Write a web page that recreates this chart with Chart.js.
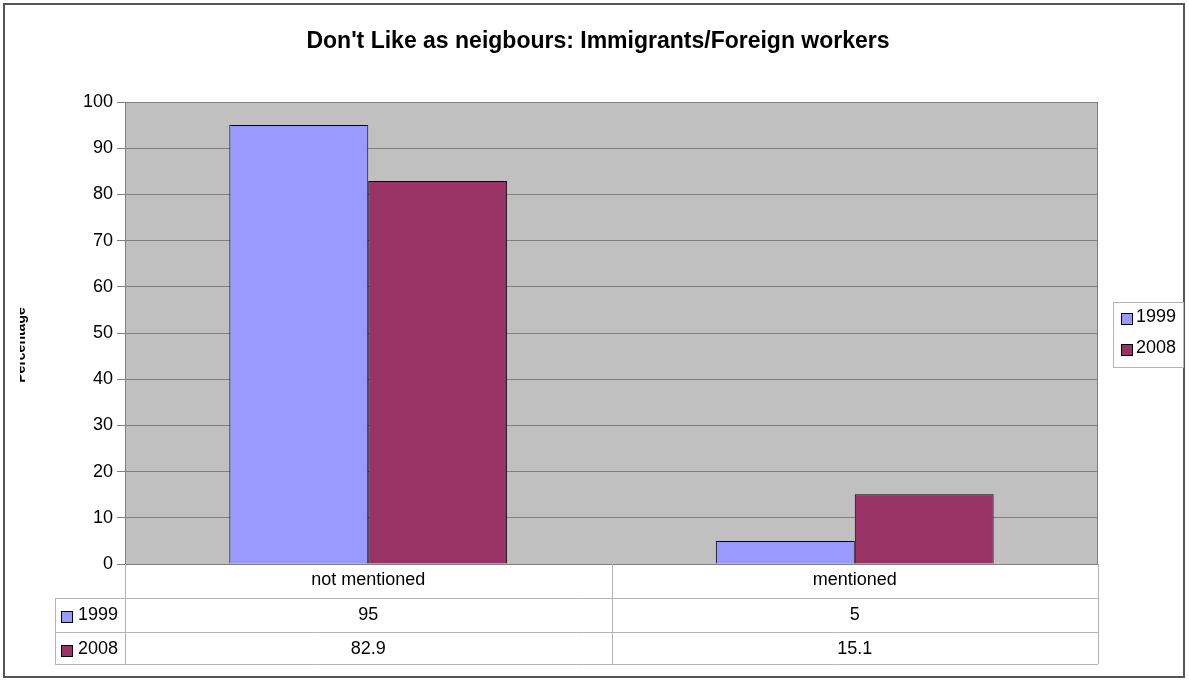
<!DOCTYPE html>
<html>
<head>
<meta charset="utf-8">
<script src="https://cdn.jsdelivr.net/npm/chart.js@4"></script>
<style>
  body { margin: 0; background: #fff; }
  #wrap { width: 1189px; height: 680px; }
</style>
</head>
<body>
<div id="wrap"><canvas id="chart1" width="1189" height="680"></canvas></div>
<script>
const categories = ['not mentioned', 'mentioned'];
const seriesNames = ['1999', '2008'];
const values1999 = [95, 5];
const values2008 = [82.9, 15.1];
const seriesColors = ['#9999ff', '#993366'];
const yTicks = [0, 10, 20, 30, 40, 50, 60, 70, 80, 90, 100];

const FONT = '"Liberation Sans", Arial, sans-serif';

// dessine le cadre, le titre, le fond gris, la table de données et la légende
const extras = {
    id: 'extras',
    beforeDraw(chart) {
        const ctx = chart.ctx;
        const a = chart.chartArea;
        ctx.save();
        ctx.fillStyle = '#ffffff';
        ctx.fillRect(0, 0, chart.width, chart.height);
        ctx.fillStyle = '#c0c0c0';
        ctx.fillRect(a.left, a.top, a.right - a.left, a.bottom - a.top);
        ctx.restore();
    },
    afterDraw(chart) {
        const ctx = chart.ctx;
        const a = chart.chartArea;
        const x = chart.scales.x;
        ctx.save();

        // bord de la zone de tracé
        ctx.strokeStyle = '#808080';
        ctx.lineWidth = 1;
        ctx.strokeRect(a.left + 0.5, a.top + 0.5, a.right - a.left - 1, a.bottom - a.top);

        // cadre extérieur
        ctx.strokeStyle = '#555555';
        ctx.lineWidth = 2;
        ctx.strokeRect(4, 4, 1180, 673);

        // titre
        ctx.fillStyle = '#000';
        ctx.font = 'bold 23px ' + FONT;
        ctx.textAlign = 'center';
        ctx.textBaseline = 'middle';
        ctx.fillText("Don't Like as neigbours: Immigrants/Foreign workers", 598, 42);

        // titre de l'axe Y (coupé à gauche comme dans l'original)
        ctx.save();
        ctx.beginPath();
        ctx.rect(20, 250, 30, 200);
        ctx.clip();
        ctx.translate(25, 345);
        ctx.rotate(-Math.PI / 2);
        ctx.font = 'bold 14px ' + FONT;
        ctx.textAlign = 'center';
        ctx.textBaseline = 'alphabetic';
        ctx.fillText('Percentage', 0, 0);
        ctx.restore();

        // table de données
        const rowTops = [a.bottom, 598, 632, 664];
        const bounds = [a.left, (x.getPixelForValue(0) + x.getPixelForValue(1)) / 2, a.right];
        ctx.strokeStyle = '#b4b4b4';
        ctx.lineWidth = 1;
        ctx.beginPath();
        for (let i = 1; i < rowTops.length; i++) {
            ctx.moveTo(55, rowTops[i] + 0.5);
            ctx.lineTo(a.right, rowTops[i] + 0.5);
        }
        ctx.moveTo(55.5, rowTops[1]);
        ctx.lineTo(55.5, rowTops[3]);
        bounds.forEach(b => {
            ctx.moveTo(Math.round(b) + 0.5, a.bottom);
            ctx.lineTo(Math.round(b) + 0.5, rowTops[3]);
        });
        ctx.stroke();

        ctx.font = '18px ' + FONT;
        ctx.fillStyle = '#000';
        ctx.textAlign = 'center';
        ctx.textBaseline = 'middle';
        categories.forEach((c, i) => {
            const cx = x.getPixelForValue(i);
            ctx.fillText(c, cx, 580);
            ctx.fillText(String(values1999[i]), cx, 615);
            ctx.fillText(String(values2008[i]), cx, 649);
        });

        // légende de la table
        const swatch = (sx, sy, col) => {
            ctx.fillStyle = col;
            ctx.fillRect(sx, sy, 12, 12);
            ctx.strokeStyle = '#000';
            ctx.lineWidth = 1;
            ctx.strokeRect(sx + 0.5, sy + 0.5, 11, 11);
        };
        ctx.textAlign = 'left';
        seriesNames.forEach((n, i) => {
            const cy = [616, 650][i];
            swatch(61, cy - 5, seriesColors[i]);
            ctx.fillStyle = '#000';
            ctx.fillText(n, 78, cy - 1);
        });

        // légende à droite
        ctx.strokeStyle = '#b4b4b4';
        ctx.lineWidth = 1;
        ctx.strokeRect(1113.5, 302.5, 70, 65);
        seriesNames.forEach((n, i) => {
            const cy = [318, 349][i];
            swatch(1121, cy - 5, seriesColors[i]);
            ctx.fillStyle = '#000';
            ctx.fillText(n, 1136, cy - 1);
        });

        ctx.restore();
    }
};

const ctx = document.getElementById('chart1').getContext('2d');
const myChart = new Chart(ctx, {
    type: 'bar',
    data: {
        labels: categories,
        datasets: [{
            label: seriesNames[0],
            data: values1999,
            backgroundColor: seriesColors[0],
            borderColor: '#000',
            borderWidth: 1,
            categoryPercentage: 0.571,
            barPercentage: 1
        }, {
            label: seriesNames[1],
            data: values2008,
            backgroundColor: seriesColors[1],
            borderColor: '#000',
            borderWidth: 1,
            categoryPercentage: 0.571,
            barPercentage: 1
        }]
    },
    options: {
        responsive: false,
        animation: false,
        layout: { padding: { left: 55, right: 91, top: 102, bottom: 116 } },
        plugins: {
            legend: { display: false },
            tooltip: { enabled: false },
            title: { display: false }
        },
        scales: {
            x: {
                display: false,
                grid: { display: false }
            },
            y: {
                min: 0,
                max: 100,
                afterFit(scale) { scale.width = 70; },
                afterBuildTicks(scale) { scale.ticks = yTicks.map(v => ({ value: v })); },
                ticks: {
                    color: '#000',
                    padding: 4,
                    font: { family: FONT, size: 18 }
                },
                grid: {
                    color: '#808080',
                    tickLength: 8,
                    tickColor: '#808080'
                },
                border: { color: '#808080' }
            }
        }
    },
    plugins: [extras]
});
</script>
</body>
</html>
